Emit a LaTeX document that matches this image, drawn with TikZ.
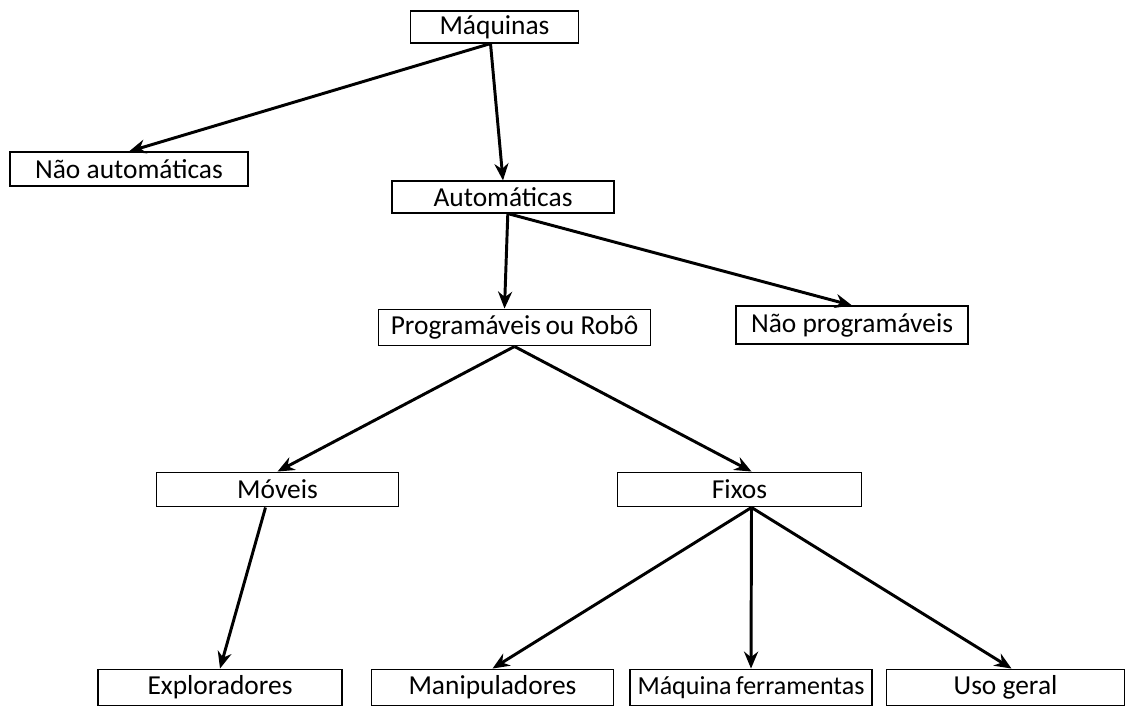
\documentclass[tikz,border=0pt]{standalone}
\usepackage{fontspec}
\setmainfont{Carlito}
\usetikzlibrary{arrows.meta}

\tikzset{
  caixa/.style={draw, line width=0.8pt, inner sep=0pt, minimum height=#1, font=\fontsize{19.5}{22}\selectfont},
  caixa/.default=0.85cm,
  seta/.style={-{Stealth[length=12pt,width=10pt]}, line width=2.1pt}
}

\begin{document}
\begin{tikzpicture}[x=0.025cm, y=-0.025cm]
  \useasboundingbox (0,0) rectangle (1128,705);
  % top levels
  \node[caixa=0.8cm, minimum width=4.22cm] (maq) at (494.5,27) {Máquinas};
  \node[caixa, minimum width=5.95cm] (naut) at (129,169) {Não automáticas};
  \node[caixa=0.8cm, minimum width=5.55cm] (aut) at (503,197) {Automáticas};
  % automatic machines
  \node[caixa=0.92cm, minimum width=6.78cm] (prog) at (514.5,327.5) {Programáveis\,ou Robô};
  \node[caixa=0.95cm, minimum width=5.8cm] (nprog) at (852,325) {Não programáveis};
  % robots
  \node[caixa=0.87cm, minimum width=6.03cm] (mov) at (277.5,489.5) {Móveis};
  \node[caixa=0.87cm, minimum width=6.08cm] (fix) at (739.5,489.5) {Fixos};
  % bottom row
  \node[caixa=0.92cm, minimum width=6.1cm] (expl) at (220,687.5) {Exploradores};
  \node[caixa=0.92cm, minimum width=6.03cm] (mani) at (492.5,687.5) {Manipuladores};
  \node[caixa=0.92cm, minimum width=6.05cm, font=\fontsize{18.5}{22}\selectfont] (maqf) at (751,687.5) {Máquina\,ferramentas};
  \node[caixa=0.92cm, minimum width=5.93cm] (uso) at (1005.5,687.5) {Uso geral};
  % connection points off centre
  \coordinate (maqS) at ([xshift=-0.1cm]maq.south);
  \coordinate (autS) at ([xshift=0.12cm]aut.south);
  \coordinate (progN) at ([xshift=-0.25cm]prog.north);
  \coordinate (fixN) at ([xshift=0.3cm]fix.north);
  \coordinate (fixS) at ([xshift=0.3cm]fix.south);
  \coordinate (movS) at ([xshift=-0.3cm]mov.south);
  % arrows
  \draw[seta] (maqS) -- (naut.north);
  \draw[seta] (maqS) -- (aut.north);
  \draw[seta] (autS) -- (progN);
  \draw[seta] (autS) -- (nprog.north);
  \draw[seta] (prog.south) -- (mov.north);
  \draw[seta] (prog.south) -- (fixN);
  \draw[seta] (movS) -- (expl.north);
  \draw[seta] (fixS) -- (mani.north);
  \draw[seta] (fixS) -- (maqf.north);
  \draw[seta] (fixS) -- ([xshift=0.15cm]uso.north);
\end{tikzpicture}
\end{document}
